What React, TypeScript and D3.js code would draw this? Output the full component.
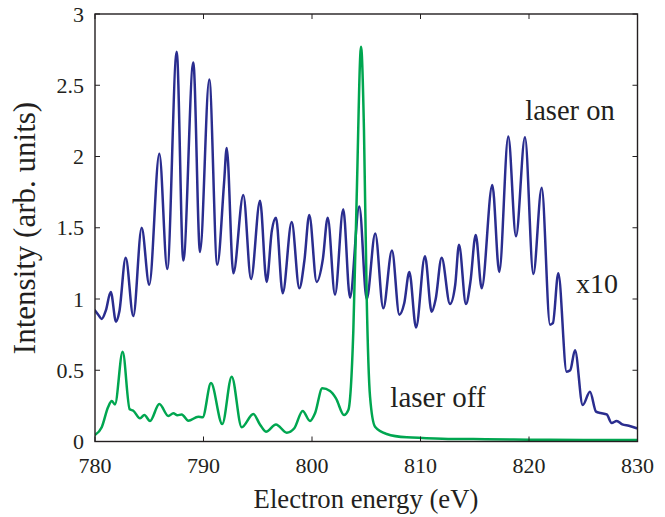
import React from "react";
import * as d3 from "d3";

const xTicks = [780, 790, 800, 810, 820, 830];
const yTicks = [0, 0.5, 1, 1.5, 2, 2.5, 3];
const yTickLabels = ["0", "0.5", "1", "1.5", "2", "2.5", "3"];

// laser on (x10)
const blueE = [780, 780.3, 780.62, 781.0, 781.45, 781.94, 782.24, 782.83, 783.53, 784.3, 785.0, 785.93, 786.66, 787.53, 788.14, 789.06, 789.68, 790.53, 791.27, 791.9, 792.14, 792.75, 793.67, 794.38, 795.21, 795.82, 796.3, 796.68, 797.3, 798.13, 798.83, 799.3, 799.75, 800.43, 801.0, 801.45, 802.12, 802.88, 803.5, 804.36, 805.04, 805.83, 806.57, 807.37, 808.05, 808.5, 808.97, 809.59, 810.41, 811.03, 811.4, 811.95, 812.72, 813.2, 813.55, 814.19, 814.6, 815.09, 815.64, 816.62, 817.26, 818.09, 818.8, 819.63, 820.4, 821.17, 821.94, 822.2, 822.7, 823.47, 823.8, 824.24, 824.95, 825.62, 826.18, 826.6, 827.16, 827.62, 828.08, 828.6, 829.2, 829.93];
const blueV = [0.92, 0.89, 0.86, 0.92, 1.05, 0.84, 0.91, 1.29, 0.88, 1.5, 1.1, 2.02, 1.21, 2.735, 1.27, 2.66, 1.33, 2.54, 1.24, 1.82, 2.06, 1.18, 1.73, 1.14, 1.69, 1.12, 1.48, 1.57, 1.04, 1.54, 1.075, 1.27, 1.59, 1.12, 1.28, 1.57, 1.03, 1.63, 1.01, 1.65, 1.0, 1.46, 0.935, 1.34, 0.89, 0.97, 1.19, 0.8, 1.3, 0.91, 1.0, 1.29, 0.965, 1.1, 1.38, 0.965, 1.12, 1.45, 1.075, 1.8, 1.19, 2.14, 1.44, 2.135, 1.175, 1.78, 0.82, 0.83, 1.18, 0.49, 0.5, 0.64, 0.256, 0.35, 0.21, 0.2, 0.19, 0.13, 0.144, 0.12, 0.11, 0.093];

// laser off
const greenE = [780, 780.62, 781.2, 781.54, 781.84, 782.55, 783.2, 783.53, 784.15, 784.55, 785.07, 785.93, 786.76, 787.22, 787.59, 787.99, 788.6, 789.52, 789.92, 790.69, 791.73, 792.6, 793.52, 794.59, 795.2, 795.76, 796.68, 797.67, 798.37, 799.14, 799.82, 800.28, 800.95, 801.66, 802.21, 802.95, 803.35, 803.81, 804.12, 804.52, 804.79, 805.04, 805.35, 805.81, 806.88, 808.73, 812, 816, 820, 825, 830];
const greenV = [0.046, 0.1, 0.24, 0.285, 0.26, 0.63, 0.226, 0.216, 0.163, 0.186, 0.144, 0.263, 0.179, 0.198, 0.184, 0.19, 0.146, 0.174, 0.17, 0.41, 0.123, 0.455, 0.1, 0.193, 0.12, 0.069, 0.12, 0.062, 0.093, 0.214, 0.144, 0.198, 0.373, 0.354, 0.303, 0.186, 0.221, 0.78, 1.72, 2.77, 2.186, 1.016, 0.314, 0.104, 0.053, 0.029, 0.02, 0.016, 0.013, 0.011, 0.01];

const W = 665;
const H = 517;
const L = 95, R = 637.5, T = 14, B = 441.5;
const FONT = "'Liberation Serif', 'Times New Roman', serif";
const TXT = "#231f20";

export default function App() {
  const x = d3.scaleLinear().domain([780, 830]).range([L, R]);
  const y = d3.scaleLinear().domain([0, 3]).range([B, T]);

  const line = d3
    .line<[number, number]>()
    .x((d) => x(d[0]))
    .y((d) => y(d[1]))
    .curve(d3.curveMonotoneX);

  const blue = line(blueE.map((e, i) => [e, blueV[i]] as [number, number])) || "";
  const green = line(greenE.map((e, i) => [e, greenV[i]] as [number, number])) || "";
  const tl = 5;

  return (
    <svg
      width={W}
      height={H}
      style={{ position: "absolute", left: 0, top: 0, background: "#fff" }}
      fontFamily={FONT}
    >
      <defs>
        <clipPath id="plotclip">
          <rect x={L} y={T - 2} width={R - L} height={B - T + 2} />
        </clipPath>
      </defs>
      <rect x={0} y={0} width={W} height={H} fill="#fff" />
      <g clipPath="url(#plotclip)" fill="none" strokeLinejoin="round" strokeLinecap="round">
        <path d={blue} stroke="#2a2d8f" strokeWidth={2.5} />
        <path d={green} stroke="#00a650" strokeWidth={2.5} />
      </g>
      {/* frame */}
      <rect x={L} y={T} width={R - L} height={B - T} fill="none" stroke={TXT} strokeWidth={1.4} />
      {xTicks.map((t) => (
        <g key={"x" + t}>
          <line x1={x(t)} x2={x(t)} y1={B} y2={B - tl} stroke={TXT} strokeWidth={1} />
          <line x1={x(t)} x2={x(t)} y1={T} y2={T + tl} stroke={TXT} strokeWidth={1} />
          <text x={x(t)} y={473} textAnchor="middle" fontSize={22} fill={TXT}>
            {t}
          </text>
        </g>
      ))}
      {yTicks.map((t, i) => (
        <g key={"y" + t}>
          <line x1={L} x2={L + tl} y1={y(t)} y2={y(t)} stroke={TXT} strokeWidth={1} />
          <line x1={R} x2={R - tl} y1={y(t)} y2={y(t)} stroke={TXT} strokeWidth={1} />
          <text x={84} y={y(t) + 7.5} textAnchor="end" fontSize={22} fill={TXT}>
            {yTickLabels[i]}
          </text>
        </g>
      ))}
      <text x={366} y={508} textAnchor="middle" fontSize={26.7} fill={TXT}>
        Electron energy (eV)
      </text>
      <text
        transform={`translate(35, 228) rotate(-90)`}
        textAnchor="middle"
        fontSize={31}
        fill={TXT}
      >
        Intensity (arb. units)
      </text>
      <text x={570} y={120} textAnchor="middle" fontSize={28.5} fill={TXT}>
        laser on
      </text>
      <text x={597} y={293} textAnchor="middle" fontSize={28} fill={TXT}>
        x10
      </text>
      <text x={438} y={407} textAnchor="middle" fontSize={29} fill={TXT}>
        laser off
      </text>
    </svg>
  );
}
